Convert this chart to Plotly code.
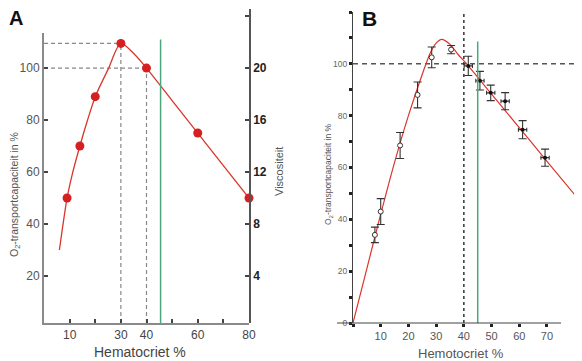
import plotly.graph_objects as go

# page is drawn with an 8px body margin: map page pixels to figure paper coords
OFF = 8
W, H = 582 - OFF, 361 - OFF
def px(x): return (x - OFF) / W
def py(y): return 1 - (y - OFF) / H

# ---------------- Panel A data ----------------
a_curve_x = [6, 7, 9, 11, 14, 17, 20, 25, 30, 35, 40, 50, 60, 70, 80]
a_curve_y = [30, 37, 50, 59, 70, 80, 89, 99.5, 109.5, 105.6, 100, 87.5, 75, 62.5, 50]
a_pts_x = [9, 14, 20, 30, 40, 60, 80]
a_pts_y = [50, 70, 89, 109.5, 100, 75, 50]
a_xticks = [10, 20, 30, 40, 50, 60, 70, 80]
a_xticktext = ['10', '', '30', '40', '', '60', '', '80']
a_yticks = [20, 40, 60, 80, 100]
a_y2ticks = [4, 8, 12, 16, 20, 24]
a_y2ticktext = ['4', '8', '12', '16', '20', '']
a_green_x = 45.5

# ---------------- Panel B data ----------------
b_curve_x = [0, 5, 10, 15, 20, 25, 28, 30, 32, 35, 38, 41, 50, 60, 70, 80]
b_curve_y = [0, 21, 42, 62, 80, 96, 104.5, 108, 109.4, 107.5, 103.5, 100, 88.3, 75.4, 62.4, 49.5]
b_open_x = [7.9, 10, 17, 23.3, 28.4, 35.4]
b_open_y = [34, 43, 68.5, 88, 102.5, 105.5]
b_open_err = [3, 5, 5, 5, 4, 1.6]
b_fill_x = [41.6, 45.8, 49.7, 54.9, 61.2, 69.3]
b_fill_y = [99.2, 93.5, 88.8, 85.6, 74.6, 63.8]
b_fill_err = [3.7, 3.6, 3, 3.3, 3.5, 3.3]
b_fill_xerr = [1.5, 1.5, 1.5, 1.5, 1.5, 1.5]
b_xticks = [0, 10, 20, 30, 40, 50, 60, 70]
b_xticktext = ['', '10', '20', '30', '40', '50', '60', '70']
b_yticks = list(range(0, 121, 10))
b_yticktext = [str(v) if v % 20 == 0 else '' for v in b_yticks]
b_green_x = 45

RED = '#d9362c'
GREEN = '#4aa87c'
FONT = 'Liberation Sans, Arial, sans-serif'

fig = go.Figure()

# Panel A
fig.add_trace(go.Scatter(x=a_curve_x, y=a_curve_y, mode='lines',
                         line=dict(color=RED, width=1.3, shape='spline', smoothing=0.8),
                         xaxis='x', yaxis='y', showlegend=False, hoverinfo='skip'))
fig.add_trace(go.Scatter(x=a_pts_x, y=a_pts_y, mode='markers',
                         marker=dict(color='#d42020', size=9),
                         xaxis='x', yaxis='y', showlegend=False, cliponaxis=False))
fig.add_trace(go.Scatter(x=[None], y=[None], xaxis='x', yaxis='y2', showlegend=False))

# Panel B
fig.add_trace(go.Scatter(x=b_curve_x, y=b_curve_y, mode='lines',
                         line=dict(color=RED, width=1.2, shape='spline', smoothing=0.8),
                         xaxis='x2', yaxis='y3', showlegend=False, cliponaxis=False))
fig.add_trace(go.Scatter(x=b_open_x, y=b_open_y, mode='markers',
                         marker=dict(color='white', size=5, line=dict(color='#333', width=1)),
                         error_y=dict(type='data', array=b_open_err, color='#333', thickness=1.1, width=4),
                         xaxis='x2', yaxis='y3', showlegend=False, cliponaxis=False))
fig.add_trace(go.Scatter(x=b_fill_x, y=b_fill_y, mode='markers',
                         marker=dict(color='#111', size=4),
                         error_y=dict(type='data', array=b_fill_err, color='#333', thickness=1.1, width=4),
                         error_x=dict(type='data', array=b_fill_xerr, color='#333', thickness=1.1, width=2),
                         xaxis='x2', yaxis='y3', showlegend=False, cliponaxis=False))

shapes = []
dashA = dict(color='#888', width=1.2, dash='4px,3px')
shapes += [
    dict(type='line', xref='x', yref='y', x0=0, x1=30, y0=109.5, y1=109.5, line=dashA, layer='below'),
    dict(type='line', xref='x', yref='y', x0=0, x1=40, y0=100, y1=100, line=dashA, layer='below'),
    dict(type='line', xref='x', yref='y', x0=30, x1=30, y0=1.9, y1=109.5, line=dashA, layer='below'),
    dict(type='line', xref='x', yref='y', x0=40, x1=40, y0=1.9, y1=100, line=dashA, layer='below'),
    dict(type='line', xref='x', yref='y', x0=a_green_x, x1=a_green_x, y0=1.9, y1=111,
         line=dict(color=GREEN, width=1.5)),
]
shapes += [
    dict(type='line', xref='x2', yref='y3', x0=40, x1=40, y0=0, y1=120,
         line=dict(color='#333', width=1.5, dash='3px,3px'), layer='below'),
    dict(type='line', xref='paper', yref='y3', x0=px(353), x1=px(575), y0=100, y1=100,
         line=dict(color='#555', width=1.5, dash='5px,4px'), layer='below'),
    dict(type='line', xref='x2', yref='y3', x0=b_green_x, x1=b_green_x, y0=0, y1=108.6,
         line=dict(color=GREEN, width=1.5)),
    dict(type='line', xref='paper', yref='paper', x0=px(337), x1=px(561), y0=py(323), y1=py(323),
         line=dict(color='#444', width=1.2)),
]

def ann(text, x, y, size, color, angle=0):
    return dict(text=text, x=px(x), y=py(y), xref='paper', yref='paper', showarrow=False,
                xanchor='center', yanchor='middle', textangle=angle,
                font=dict(size=size, color=color, family=FONT))

annotations = [
    ann('<b>A</b>', 16, 18, 20, '#111'),
    ann('O<sub>2</sub>-transportcapaciteit in %', 15, 195, 10.5, '#555', -90),
    ann('Viscositeit', 279, 172, 11, '#555', -90),
    ann('Hematocriet %', 140, 352, 14, '#444'),
    ann('<b>B</b>', 369, 18, 21, '#111'),
    ann('O<sub>2</sub>-transportcapaciteit in %', 328, 174, 8.5, '#555', -90),
    ann('Hemotocriet %', 461, 353, 13, '#555'),
]

fig.update_layout(
    width=W, height=H, margin=dict(l=0, r=0, t=0, b=0),
    paper_bgcolor='white', plot_bgcolor='rgba(0,0,0,0)',
    font=dict(family=FONT),
    shapes=shapes, annotations=annotations,
    xaxis=dict(domain=[px(44), px(249)], range=[0, 80], anchor='y',
               tickmode='array', tickvals=a_xticks, ticktext=a_xticktext,
               ticks='inside', ticklen=4, tickwidth=1.5, tickcolor='#444',
               showline=True, linecolor='#8a8a8a', linewidth=2,
               showgrid=False, zeroline=False, automargin=False,
               tickfont=dict(size=12, color='#444')),
    yaxis=dict(domain=[py(323), py(33)], range=[1.9, 113.5], anchor='x',
               tickmode='array', tickvals=a_yticks,
               ticks='inside', ticklen=4, tickwidth=1.5, tickcolor='#444',
               showline=True, linecolor='#8a8a8a', linewidth=2,
               showgrid=False, zeroline=False, automargin=False,
               tickfont=dict(size=12, color='#555')),
    yaxis2=dict(domain=[py(323), py(9)], range=[0.38, 24.54], anchor='x', side='right',
                tickmode='array', tickvals=a_y2ticks, ticktext=a_y2ticktext,
                ticks='inside', ticklen=4, tickwidth=1.5, tickcolor='#444',
                showline=True, linecolor='#555', linewidth=1.5,
                showgrid=False, zeroline=False, automargin=False,
                tickfont=dict(size=12, color='#222', weight='bold')),
    xaxis2=dict(domain=[px(353), px(574.7)], range=[0, 80], anchor='y3',
                tickmode='array', tickvals=b_xticks, ticktext=b_xticktext,
                ticks='outside', ticklen=3, tickwidth=2.5, tickcolor='#222',
                showline=False, showgrid=False, zeroline=False, automargin=False,
                tickfont=dict(size=11, color='#555')),
    yaxis3=dict(domain=[py(323), py(12)], range=[0, 120], anchor='x2',
                tickmode='array', tickvals=b_yticks, ticktext=b_yticktext,
                ticks='outside', ticklen=3, tickwidth=3, tickcolor='#222',
                showline=True, linecolor='#444', linewidth=1.2,
                showgrid=False, zeroline=False, automargin=False,
                tickfont=dict(size=8.5, color='#666')),
)

fig.write_html("out.html")
